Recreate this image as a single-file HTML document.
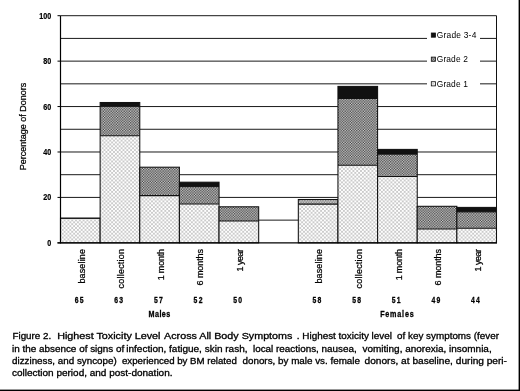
<!DOCTYPE html>
<html><head><meta charset="utf-8"><title>Figure 2</title>
<style>
html,body{margin:0;padding:0;background:#fff;}
body{width:520px;height:391px;overflow:hidden;position:relative;font-family:"Liberation Sans",sans-serif;}
svg{position:absolute;left:0;top:0;display:block;}
text{font-family:"Liberation Sans",sans-serif;fill:#000;}
.ax{font-weight:bold;font-size:9px;stroke:#000;stroke-width:0.2px;}
.cat{font-size:9px;stroke:#000;stroke-width:0.25px;}
.cap{font-size:9px;stroke:#000;stroke-width:0.3px;}
</style></head><body>
<svg width="520" height="391" viewBox="0 0 520 391">
<defs>
<pattern id="p1" width="3.8" height="3.8" patternUnits="userSpaceOnUse"><rect width="3.8" height="3.8" fill="#fefefe"/><path d="M-0.5,-0.5 L4.3,4.3 M4.3,-0.5 L-0.5,4.3" stroke="#b4b4b4" stroke-width="0.66" fill="none"/></pattern>
<pattern id="p2" width="2.6" height="2.6" patternUnits="userSpaceOnUse"><rect width="2.6" height="2.6" fill="#d2d2d2"/><rect x="0" y="0" width="1.3" height="1.3" fill="#3e3e3e"/><rect x="1.3" y="1.3" width="1.3" height="1.3" fill="#3e3e3e"/></pattern>
</defs>
<rect x="0" y="0" width="520" height="391" fill="#fff"/>

<line x1="60.50" y1="220.13" x2="496.50" y2="220.13" stroke="#1a1a1a" stroke-width="1"/>
<line x1="60.50" y1="197.42" x2="496.50" y2="197.42" stroke="#1a1a1a" stroke-width="1"/>
<line x1="60.50" y1="174.70" x2="496.50" y2="174.70" stroke="#1a1a1a" stroke-width="1"/>
<line x1="60.50" y1="151.99" x2="496.50" y2="151.99" stroke="#1a1a1a" stroke-width="1"/>
<line x1="60.50" y1="129.27" x2="496.50" y2="129.27" stroke="#1a1a1a" stroke-width="1"/>
<line x1="60.50" y1="106.56" x2="496.50" y2="106.56" stroke="#1a1a1a" stroke-width="1"/>
<line x1="60.50" y1="83.84" x2="496.50" y2="83.84" stroke="#1a1a1a" stroke-width="1"/>
<line x1="60.50" y1="61.13" x2="496.50" y2="61.13" stroke="#1a1a1a" stroke-width="1"/>
<line x1="60.50" y1="38.41" x2="496.50" y2="38.41" stroke="#1a1a1a" stroke-width="1"/>
<line x1="60.50" y1="15.70" x2="496.50" y2="15.70" stroke="#1a1a1a" stroke-width="1"/>
<line x1="57.50" y1="242.85" x2="60.50" y2="242.85" stroke="#000" stroke-width="1"/>
<text class="ax" x="51.3" y="245.85" text-anchor="end" textLength="4" lengthAdjust="spacingAndGlyphs">0</text>
<line x1="57.50" y1="197.42" x2="60.50" y2="197.42" stroke="#000" stroke-width="1"/>
<text class="ax" x="51.3" y="200.42" text-anchor="end" textLength="8" lengthAdjust="spacingAndGlyphs">20</text>
<line x1="57.50" y1="151.99" x2="60.50" y2="151.99" stroke="#000" stroke-width="1"/>
<text class="ax" x="51.3" y="154.99" text-anchor="end" textLength="8" lengthAdjust="spacingAndGlyphs">40</text>
<line x1="57.50" y1="106.56" x2="60.50" y2="106.56" stroke="#000" stroke-width="1"/>
<text class="ax" x="51.3" y="109.56" text-anchor="end" textLength="8" lengthAdjust="spacingAndGlyphs">60</text>
<line x1="57.50" y1="61.13" x2="60.50" y2="61.13" stroke="#000" stroke-width="1"/>
<text class="ax" x="51.3" y="64.13" text-anchor="end" textLength="8" lengthAdjust="spacingAndGlyphs">80</text>
<line x1="57.50" y1="15.70" x2="60.50" y2="15.70" stroke="#000" stroke-width="1"/>
<text class="ax" x="51.3" y="18.70" text-anchor="end" textLength="12" lengthAdjust="spacingAndGlyphs">100</text>
<rect x="427" y="28" width="53" height="62" fill="#fff"/>
<rect x="60.50" y="218.20" width="39.64" height="24.65" fill="url(#p1)"/>
<rect x="60.50" y="218.20" width="39.64" height="24.65" fill="none" stroke="#111" stroke-width="1.05"/>
<line x1="60.50" y1="218.20" x2="100.14" y2="218.20" stroke="#111" stroke-width="1.05"/>
<rect x="100.14" y="135.70" width="39.64" height="107.15" fill="url(#p1)"/>
<rect x="100.14" y="106.30" width="39.64" height="29.40" fill="url(#p2)"/>
<rect x="100.14" y="102.50" width="39.64" height="3.80" fill="#111"/>
<rect x="100.14" y="102.50" width="39.64" height="140.35" fill="none" stroke="#111" stroke-width="1.05"/>
<line x1="100.14" y1="135.70" x2="139.77" y2="135.70" stroke="#111" stroke-width="1.05"/>
<line x1="100.14" y1="106.30" x2="139.77" y2="106.30" stroke="#111" stroke-width="1"/>
<rect x="139.77" y="195.60" width="39.64" height="47.25" fill="url(#p1)"/>
<rect x="139.77" y="167.20" width="39.64" height="28.40" fill="url(#p2)"/>
<rect x="139.77" y="167.20" width="39.64" height="75.65" fill="none" stroke="#111" stroke-width="1.05"/>
<line x1="139.77" y1="195.60" x2="179.41" y2="195.60" stroke="#111" stroke-width="1.05"/>
<rect x="179.41" y="203.90" width="39.64" height="38.95" fill="url(#p1)"/>
<rect x="179.41" y="186.60" width="39.64" height="17.30" fill="url(#p2)"/>
<rect x="179.41" y="182.20" width="39.64" height="4.40" fill="#111"/>
<rect x="179.41" y="182.20" width="39.64" height="60.65" fill="none" stroke="#111" stroke-width="1.05"/>
<line x1="179.41" y1="203.90" x2="219.04" y2="203.90" stroke="#111" stroke-width="1.05"/>
<line x1="179.41" y1="186.60" x2="219.04" y2="186.60" stroke="#111" stroke-width="1"/>
<rect x="219.04" y="220.90" width="39.64" height="21.95" fill="url(#p1)"/>
<rect x="219.04" y="206.80" width="39.64" height="14.10" fill="url(#p2)"/>
<rect x="219.04" y="206.80" width="39.64" height="36.05" fill="none" stroke="#111" stroke-width="1.05"/>
<line x1="219.04" y1="220.90" x2="258.68" y2="220.90" stroke="#111" stroke-width="1.05"/>
<rect x="298.32" y="204.10" width="39.64" height="38.75" fill="url(#p1)"/>
<rect x="298.32" y="199.50" width="39.64" height="4.60" fill="url(#p2)" fill-opacity="0.72"/>
<rect x="298.32" y="199.50" width="39.64" height="43.35" fill="none" stroke="#111" stroke-width="1.05"/>
<line x1="298.32" y1="204.10" x2="337.95" y2="204.10" stroke="#111" stroke-width="1.05"/>
<rect x="337.95" y="165.20" width="39.64" height="77.65" fill="url(#p1)"/>
<rect x="337.95" y="98.50" width="39.64" height="66.70" fill="url(#p2)"/>
<rect x="337.95" y="86.40" width="39.64" height="12.10" fill="#111"/>
<rect x="337.95" y="86.40" width="39.64" height="156.45" fill="none" stroke="#111" stroke-width="1.05"/>
<line x1="337.95" y1="165.20" x2="377.59" y2="165.20" stroke="#111" stroke-width="1.05"/>
<line x1="337.95" y1="98.50" x2="377.59" y2="98.50" stroke="#111" stroke-width="1"/>
<rect x="377.59" y="176.40" width="39.64" height="66.45" fill="url(#p1)"/>
<rect x="377.59" y="154.20" width="39.64" height="22.20" fill="url(#p2)"/>
<rect x="377.59" y="149.40" width="39.64" height="4.80" fill="#111"/>
<rect x="377.59" y="149.40" width="39.64" height="93.45" fill="none" stroke="#111" stroke-width="1.05"/>
<line x1="377.59" y1="176.40" x2="417.22" y2="176.40" stroke="#111" stroke-width="1.05"/>
<line x1="377.59" y1="154.20" x2="417.22" y2="154.20" stroke="#111" stroke-width="1"/>
<rect x="417.22" y="228.90" width="39.64" height="13.95" fill="url(#p1)"/>
<rect x="417.22" y="206.30" width="39.64" height="22.60" fill="url(#p2)"/>
<rect x="417.22" y="206.30" width="39.64" height="36.55" fill="none" stroke="#111" stroke-width="1.05"/>
<line x1="417.22" y1="228.90" x2="456.86" y2="228.90" stroke="#111" stroke-width="1.05"/>
<rect x="456.86" y="228.20" width="39.64" height="14.65" fill="url(#p1)"/>
<rect x="456.86" y="211.90" width="39.64" height="16.30" fill="url(#p2)"/>
<rect x="456.86" y="207.40" width="39.64" height="4.50" fill="#111"/>
<rect x="456.86" y="207.40" width="39.64" height="35.45" fill="none" stroke="#111" stroke-width="1.05"/>
<line x1="456.86" y1="228.20" x2="496.50" y2="228.20" stroke="#111" stroke-width="1.05"/>
<line x1="456.86" y1="211.90" x2="496.50" y2="211.90" stroke="#111" stroke-width="1"/>
<line x1="60.50" y1="15.70" x2="60.50" y2="243.35" stroke="#000" stroke-width="1.2"/>
<line x1="496.50" y1="15.70" x2="496.50" y2="243.35" stroke="#111" stroke-width="1"/>
<line x1="57.50" y1="242.85" x2="496.50" y2="242.85" stroke="#000" stroke-width="1.3"/>
<rect x="431.3" y="33.00" width="4.2" height="4.2" fill="#111" stroke="#111" stroke-width="0.8"/>
<text x="436.8" y="38.20" font-size="8.4" textLength="39.5" lengthAdjust="spacing">Grade 3-4</text>
<rect x="431.3" y="57.10" width="4.2" height="4.2" fill="url(#p2)" stroke="#111" stroke-width="0.8"/>
<text x="436.8" y="62.30" font-size="8.4" textLength="31" lengthAdjust="spacing">Grade 2</text>
<rect x="431.3" y="81.70" width="4.2" height="4.2" fill="url(#p1)" stroke="#111" stroke-width="0.8"/>
<text x="436.8" y="86.90" font-size="8.4" textLength="31" lengthAdjust="spacing">Grade 1</text>
<text class="cat" transform="translate(84.52,249.00) rotate(-90)" text-anchor="end" textLength="34.6" lengthAdjust="spacing">baseline</text>
<text class="cat" transform="translate(124.15,249.00) rotate(-90)" text-anchor="end" textLength="39.4" lengthAdjust="spacing">collection</text>
<text class="cat" transform="translate(163.79,249.00) rotate(-90)" text-anchor="end" textLength="31.2" lengthAdjust="spacing">1 month</text>
<text class="cat" transform="translate(203.43,249.00) rotate(-90)" text-anchor="end" textLength="36.4" lengthAdjust="spacing">6 months</text>
<text class="cat" transform="translate(243.06,249.00) rotate(-90)" text-anchor="end" textLength="22.6" lengthAdjust="spacing">1 year</text>
<text class="cat" transform="translate(322.33,249.00) rotate(-90)" text-anchor="end" textLength="34.6" lengthAdjust="spacing">baseline</text>
<text class="cat" transform="translate(361.97,249.00) rotate(-90)" text-anchor="end" textLength="39.4" lengthAdjust="spacing">collection</text>
<text class="cat" transform="translate(401.61,249.00) rotate(-90)" text-anchor="end" textLength="31.2" lengthAdjust="spacing">1 month</text>
<text class="cat" transform="translate(441.24,249.00) rotate(-90)" text-anchor="end" textLength="36.4" lengthAdjust="spacing">6 months</text>
<text class="cat" transform="translate(480.88,249.00) rotate(-90)" text-anchor="end" textLength="22.6" lengthAdjust="spacing">1 year</text>
<g transform="translate(79.73,302.90) scale(0.72,1)"><text x="0" y="0" font-size="9.5" font-weight="bold" stroke="#000" stroke-width="0.3" text-anchor="middle" letter-spacing="1.7">65</text></g>
<g transform="translate(119.37,302.90) scale(0.72,1)"><text x="0" y="0" font-size="9.5" font-weight="bold" stroke="#000" stroke-width="0.3" text-anchor="middle" letter-spacing="1.7">63</text></g>
<g transform="translate(159.00,302.90) scale(0.72,1)"><text x="0" y="0" font-size="9.5" font-weight="bold" stroke="#000" stroke-width="0.3" text-anchor="middle" letter-spacing="1.7">57</text></g>
<g transform="translate(198.64,302.90) scale(0.72,1)"><text x="0" y="0" font-size="9.5" font-weight="bold" stroke="#000" stroke-width="0.3" text-anchor="middle" letter-spacing="1.7">52</text></g>
<g transform="translate(238.27,302.90) scale(0.72,1)"><text x="0" y="0" font-size="9.5" font-weight="bold" stroke="#000" stroke-width="0.3" text-anchor="middle" letter-spacing="1.7">50</text></g>
<g transform="translate(317.55,302.90) scale(0.72,1)"><text x="0" y="0" font-size="9.5" font-weight="bold" stroke="#000" stroke-width="0.3" text-anchor="middle" letter-spacing="1.7">58</text></g>
<g transform="translate(357.18,302.90) scale(0.72,1)"><text x="0" y="0" font-size="9.5" font-weight="bold" stroke="#000" stroke-width="0.3" text-anchor="middle" letter-spacing="1.7">58</text></g>
<g transform="translate(396.82,302.90) scale(0.72,1)"><text x="0" y="0" font-size="9.5" font-weight="bold" stroke="#000" stroke-width="0.3" text-anchor="middle" letter-spacing="1.7">51</text></g>
<g transform="translate(436.45,302.90) scale(0.72,1)"><text x="0" y="0" font-size="9.5" font-weight="bold" stroke="#000" stroke-width="0.3" text-anchor="middle" letter-spacing="1.7">49</text></g>
<g transform="translate(476.09,302.90) scale(0.72,1)"><text x="0" y="0" font-size="9.5" font-weight="bold" stroke="#000" stroke-width="0.3" text-anchor="middle" letter-spacing="1.7">44</text></g>
<g transform="translate(159.64,317.40) scale(0.8,1)"><text x="0" y="0" font-size="9" font-weight="bold" stroke="#000" stroke-width="0.3" text-anchor="middle" letter-spacing="0.6">Males</text></g>
<g transform="translate(397.30,317.40) scale(0.8,1)"><text x="0" y="0" font-size="9" font-weight="bold" stroke="#000" stroke-width="0.3" text-anchor="middle" letter-spacing="1.0">Females</text></g>
<text class="cat" transform="translate(25.9,126.5) rotate(-90)" text-anchor="middle" textLength="87.5" lengthAdjust="spacing">Percentage of Donors</text>
<text class="cap" y="339.4"><tspan x="12.5" textLength="38.70" lengthAdjust="spacingAndGlyphs">Figure 2.</tspan> <tspan x="57.2" textLength="103.30" lengthAdjust="spacingAndGlyphs">Highest Toxicity Level</tspan> <tspan x="164.1" textLength="128.30" lengthAdjust="spacingAndGlyphs">Across All Body Symptoms</tspan> <tspan x="296.8" textLength="95.20" lengthAdjust="spacingAndGlyphs">. Highest toxicity level</tspan> <tspan x="397" textLength="102.00" lengthAdjust="spacingAndGlyphs">of key symptoms (fever</tspan></text>
<text class="cap" y="351.6"><tspan x="12" textLength="112.25" lengthAdjust="spacingAndGlyphs">in the absence of signs of</tspan> <tspan x="126.25" textLength="121.25" lengthAdjust="spacingAndGlyphs">infection, fatigue, skin rash,</tspan> <tspan x="253" textLength="103.75" lengthAdjust="spacingAndGlyphs">local reactions, nausea,</tspan> <tspan x="362.5" textLength="129.20" lengthAdjust="spacingAndGlyphs">vomiting, anorexia, insomnia,</tspan></text>
<text class="cap" y="363.6"><tspan x="12" textLength="104.75" lengthAdjust="spacingAndGlyphs">dizziness, and syncope)</tspan> <tspan x="122" textLength="114.75" lengthAdjust="spacingAndGlyphs">experienced by BM related</tspan> <tspan x="242.5" textLength="117.50" lengthAdjust="spacingAndGlyphs">donors, by male vs. female</tspan> <tspan x="364.5" textLength="142.50" lengthAdjust="spacingAndGlyphs">donors, at baseline, during peri-</tspan></text>
<text class="cap" y="375.7"><tspan x="12" textLength="160.50" lengthAdjust="spacingAndGlyphs">collection period, and post-donation.</tspan></text>
<rect x="518.6" y="0" width="1.4" height="391" fill="#000"/>
<rect x="0" y="389.6" width="520" height="1.4" fill="#000"/>
</svg></body></html>
